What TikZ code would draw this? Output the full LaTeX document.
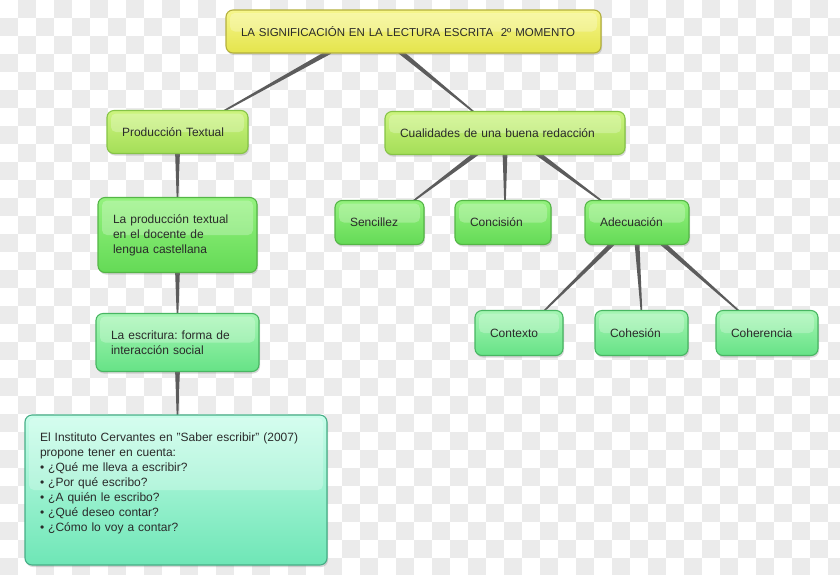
\documentclass[tikz,border=0pt]{standalone}
\usepackage{fontspec}
\setmainfont{Liberation Sans}
\usetikzlibrary{calc,shadows}
\pgfdeclarelayer{bg}
\pgfdeclarelayer{lines}
\pgfsetlayers{bg,lines,main}
\frenchspacing
\definecolor{checker}{HTML}{EBEBEB}
\definecolor{txt}{HTML}{2A2A2A}
\definecolor{linkc}{HTML}{5C5C5C}
\definecolor{yTop}{HTML}{F6F68C}
\definecolor{yBot}{HTML}{E4E44C}
\definecolor{yBrd}{HTML}{B4B03C}
\definecolor{lgTop}{HTML}{CCF47E}
\definecolor{lgBot}{HTML}{A4DE58}
\definecolor{lgBrd}{HTML}{86C446}
\definecolor{gTop}{HTML}{94F27E}
\definecolor{gBot}{HTML}{64DA56}
\definecolor{gBrd}{HTML}{54B646}
\definecolor{mTop}{HTML}{A6F6B4}
\definecolor{mBot}{HTML}{66E286}
\definecolor{mBrd}{HTML}{48B662}
\definecolor{tTop}{HTML}{C8FDEA}
\definecolor{tBot}{HTML}{6EE6B6}
\definecolor{tBrd}{HTML}{46AE86}
\newcommand{\wedgeconn}[2]{\fill[linkc] ($(#1)!2.4pt!90:(#2)$) -- ($(#2)!0.8pt!-90:(#1)$) -- ($(#2)!0.8pt!90:(#1)$) -- ($(#1)!2.4pt!-90:(#2)$) -- cycle;}
\begin{document}
\begin{tikzpicture}[x=1pt,y=-1pt,
  box/.style={rectangle, rounded corners=7pt, inner xsep=15pt, inner ysep=0pt,
    align=left, font=\fontsize{12}{15}\selectfont\frenchspacing, text=txt, line width=1.1pt,
    drop shadow={shadow xshift=1pt, shadow yshift=-2pt, opacity=0.3},
    path picture={\fill[white,opacity=0.25,rounded corners=5pt]
      ([xshift=4pt,yshift=-3pt]path picture bounding box.north west) rectangle
      ([xshift=-4pt]path picture bounding box.east);}},
  ybox/.style={box, top color=yTop, bottom color=yBot, draw=yBrd},
  lgbox/.style={box, top color=lgTop, bottom color=lgBot, draw=lgBrd},
  gbox/.style={box, top color=gTop, bottom color=gBot, draw=gBrd},
  mbox/.style={box, top color=mTop, bottom color=mBot, draw=mBrd},
  tbox/.style={box, top color=tTop, bottom color=tBot, draw=tBrd}]
\useasboundingbox (0,0) rectangle (840,574);
\begin{pgfonlayer}{bg}
\begin{scope}
\clip (0,0) rectangle (840,574);
\fill[white] (0,0) rectangle (840,574);
\foreach \j in {0,...,31}{
  \foreach \k in {0,...,23}{
    \pgfmathsetmacro\xx{18*(2*\k+1-mod(\j,2))}
    \fill[checker] (\xx,18*\j) rectangle ++(18,18);
  }
}
\end{scope}
\end{pgfonlayer}

\node[ybox, minimum width=375pt, minimum height=43pt, text width=345pt, font=\fontsize{11.5}{15}\selectfont\frenchspacing] (title) at (413.5,31.5) {\mbox{LA SIGNIFICACIÓN EN LA LECTURA ESCRITA\ \ 2º MOMENTO}};
\node[lgbox, minimum width=141pt, minimum height=43pt, text width=111pt] (prod) at (177.5,132) {Producción Textual};
\node[lgbox, minimum width=240pt, minimum height=43pt, text width=210pt] (cual) at (505,133) {Cualidades de una buena redacción};
\node[gbox, minimum width=159pt, minimum height=75pt, text width=129pt] (lapro) at (177.5,235) {La producción textual\\en el docente de\\lengua castellana};
\node[mbox, minimum width=163pt, minimum height=58pt, text width=133pt] (escr) at (177.5,342.5) {La escritura: forma de\\interacción social};
\node[tbox, minimum width=302pt, minimum height=150pt, text width=272pt] (inst) at (176,490) {El Instituto Cervantes en "Saber escribir" (2007)\\propone tener en cuenta:\\• ¿Qué me lleva a escribir?\\• ¿Por qué escribo?\\• ¿A quién le escribo?\\• ¿Qué deseo contar?\\• ¿Cómo lo voy a contar?\\\mbox{}};
\node[gbox, minimum width=89pt, minimum height=44pt, text width=59pt] (senc) at (379.5,222.5) {Sencillez};
\node[gbox, minimum width=96pt, minimum height=44pt, text width=66pt] (conc) at (503,222.5) {Concisión};
\node[gbox, minimum width=104pt, minimum height=44pt, text width=74pt] (adec) at (637,222.5) {Adecuación};
\node[mbox, minimum width=88pt, minimum height=45pt, text width=58pt] (ctx) at (519,333) {Contexto};
\node[mbox, minimum width=93pt, minimum height=45pt, text width=63pt] (coh) at (641.5,333) {Cohesión};
\node[mbox, minimum width=102pt, minimum height=45pt, text width=72pt] (cohe) at (767,333) {Coherencia};

\coordinate (t1) at ($(title.south)+(-83.5,-2)$);
\coordinate (p1) at ($(prod.north)+(44.5,2)$);
\coordinate (t2) at ($(title.south)+(-13.5,-2)$);
\coordinate (c1) at ($(cual.north)+(-30,2)$);
\coordinate (pd) at ($(prod.south)+(0,-2)$);
\coordinate (lu) at ($(lapro.north)+(0,2)$);
\coordinate (ld) at ($(lapro.south)+(0,-2)$);
\coordinate (eu) at ($(escr.north)+(0,2)$);
\coordinate (ed) at ($(escr.south)+(0,-2)$);
\coordinate (iu) at ($(inst.north)+(1.5,2)$);
\coordinate (c2) at ($(cual.south)+(-28,-2)$);
\coordinate (s1) at ($(senc.north)+(32.5,2)$);
\coordinate (c3) at ($(cual.south)+(0,-2)$);
\coordinate (k1) at ($(conc.north)+(2,2)$);
\coordinate (c4) at ($(cual.south)+(32,-2)$);
\coordinate (a1) at ($(adec.north)+(-34,2)$);
\coordinate (a2) at ($(adec.south)+(-24,-2)$);
\coordinate (x1) at ($(ctx.north)+(24,2)$);
\coordinate (a3) at ($(adec.south)+(0,-2)$);
\coordinate (h1) at ($(coh.north)+(0,2)$);
\coordinate (a4) at ($(adec.south)+(25,-2)$);
\coordinate (r1) at ($(cohe.north)+(-27,2)$);

\begin{pgfonlayer}{lines}
\wedgeconn{t1}{p1}
\wedgeconn{t2}{c1}
\wedgeconn{pd}{lu}
\wedgeconn{ld}{eu}
\wedgeconn{ed}{iu}
\wedgeconn{c2}{s1}
\wedgeconn{c3}{k1}
\wedgeconn{c4}{a1}
\wedgeconn{a2}{x1}
\wedgeconn{a3}{h1}
\wedgeconn{a4}{r1}
\end{pgfonlayer}
\end{tikzpicture}
\end{document}
